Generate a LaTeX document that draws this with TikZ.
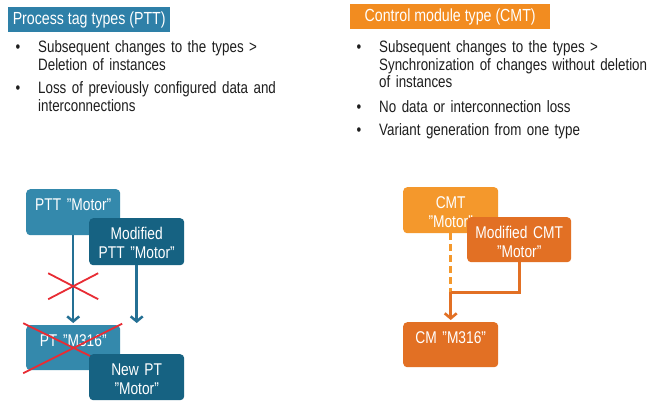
\documentclass[tikz,border=0pt]{standalone}
\usepackage{fontspec}
\setmainfont[FakeStretch=0.81]{Liberation Sans}
\usetikzlibrary{arrows.meta,calc}
\definecolor{hblue}{RGB}{46,128,168}
\definecolor{tlight}{RGB}{52,137,172}
\definecolor{tdark}{RGB}{22,98,130}
\definecolor{tline}{RGB}{36,112,148}
\definecolor{horange}{RGB}{242,140,32}
\definecolor{olight}{RGB}{244,152,44}
\definecolor{odark}{RGB}{226,112,36}
\definecolor{redx}{RGB}{232,44,52}
\definecolor{txt}{RGB}{30,30,30}
\tikzset{
  hdr/.style={anchor=north west, inner sep=0pt, text=white, font=\fontsize{17.5}{20}\selectfont},
  bul/.style={anchor=base west, inner sep=0pt, align=left, text width=#1, text=txt, font=\fontsize{16.5}{17.5}\selectfont},
  box/.style 2 args={anchor=north west, rounded corners=4pt, inner sep=0pt, align=center,
     text width=#1, minimum width=#1, text height=21pt, text depth=#2, text=white,
     font=\fontsize{17}{19}\selectfont},
  tarrow/.style={draw=tline, line width=2.5pt, -{Straight Barb[length=5pt,width=12pt]}, shorten >=2pt},
  oline/.style={draw=odark, line width=2.6pt},
  odash/.style={draw=olight, line width=2.6pt, dash pattern=on 7pt off 4pt},
  oarrow/.style={draw=odark, line width=2.6pt, -{Straight Barb[length=5pt,width=12pt]}, shorten >=2pt},
  redline/.style={draw=redx, line width=1.8pt},
}
\newcommand{\bulletmark}{\llap{\textbullet\hskip 18pt}}
\begin{document}
\begin{tikzpicture}[x=1pt,y=-1pt]
\useasboundingbox (0,0) rectangle (650,400);
\fill[white] (0,0) rectangle (650,400);

% headers
\node[hdr, fill=hblue, minimum width=162pt, minimum height=25pt] (hl) at (8,7) {Process tag types (PTT)};
\node[hdr, fill=horange, minimum width=200pt, minimum height=25pt] (hr) at (350,4) {Control module type (CMT)};

% bullets left
\node[bul=300pt] (l1) at (38,52.5) {\bulletmark Subsequent changes to the types >\\Deletion of instances};
\node[bul=300pt] (l2) at (38,93.5) {\bulletmark Loss of previously configured data and\\interconnections};

% bullets right
\node[bul=300pt] (r1) at (379,52.5) {\bulletmark Subsequent changes to the types >\\Synchronization of changes without deletion\\of instances};
\node[bul=300pt] (r2) at (379,112.5) {\bulletmark No data or interconnection loss};
\node[bul=300pt] (r3) at (379,135.5) {\bulletmark Variant generation from one type};

% left diagram
\node[box={94pt}{25pt}, fill=tlight] (ptt) at (26,189) {PTT "Motor"};
\node[box={95pt}{26pt}, fill=tdark] (mptt) at (89,218) {Modified\\PTT "Motor"};
\node[box={94pt}{24pt}, fill=tlight] (pt) at (26,325) {PT "M316"};
\draw[tarrow] (ptt.south) -- (pt.north);
\draw[tarrow] (mptt.south) -- (pt.north -| mptt.south);
\coordinate (xa) at ($(ptt.south)!0.567!(pt.north)$);
\draw[redline] ($(xa)+(-25,-13)$) -- ($(xa)+(25,13)$);
\draw[redline] ($(xa)+(-25,13)$) -- ($(xa)+(25,-13)$);
\draw[redline] ($(pt.center)+(-50,-24.5)$) -- ($(pt.center)+(50,24.5)$);
\draw[redline] ($(pt.center)+(49,-24)$) -- ($(pt.center)+(-50,25.5)$);
\node[box={95pt}{25pt}, fill=tdark] (npt) at (89,354) {New PT\\"Motor"};

% right diagram
\node[box={95pt}{25pt}, fill=olight] (cmt) at (403,187) {CMT\\"Motor"};
\node[box={104pt}{24pt}, fill=odark] (mcmt) at (467,217) {Modified CMT\\"Motor"};
\node[box={95pt}{24pt}, fill=odark] (cm) at (403,322) {CM "M316"};
\coordinate (j) at ($(cmt.south)+(0,59)$);
\draw[odash] (cmt.south) -- (j);
\draw[oline] (mcmt.south) |- (j);
\draw[oarrow] (j) -- (cm.north);
\end{tikzpicture}
\end{document}
